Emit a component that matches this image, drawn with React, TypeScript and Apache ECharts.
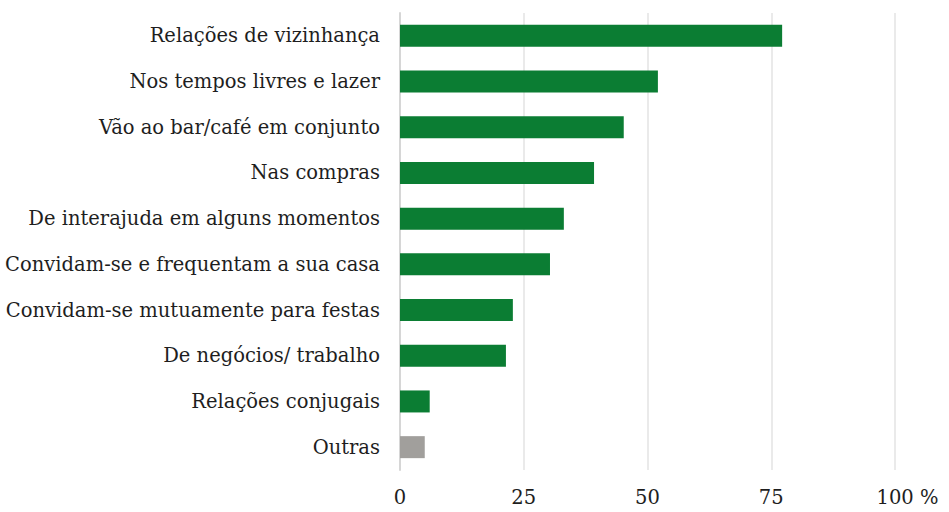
import React, { useEffect, useRef } from "react";
import * as echarts from "echarts";

const categories = [
  "Relações de vizinhança",
  "Nos tempos livres e lazer",
  "Vão ao bar/café em conjunto",
  "Nas compras",
  "De interajuda em alguns momentos",
  "Convidam-se e frequentam a sua casa",
  "Convidam-se mutuamente para festas",
  "De negócios/ trabalho",
  "Relações conjugais",
  "Outras",
];
const values = [77.2, 52.1, 45.2, 39.2, 33.1, 30.3, 22.8, 21.4, 6.0, 5.0];
const barColors = [
  "#0b7d33", "#0b7d33", "#0b7d33", "#0b7d33", "#0b7d33",
  "#0b7d33", "#0b7d33", "#0b7d33", "#0b7d33", "#a19f9c",
];
const xTicks = [0, 25, 50, 75, 100];

const FONT = "DejaVu Serif";
const FS = 19.5;

export default function App() {
  const ref = useRef<HTMLDivElement>(null);
  useEffect(() => {
    if (!ref.current) return;
    const chart = echarts.init(ref.current, undefined, { renderer: "svg" });
    chart.setOption({
      animation: false,
      backgroundColor: "#ffffff",
      textStyle: { fontFamily: FONT },
      grid: { left: 400, right: 54, top: 13, bottom: 42, containLabel: false },
      xAxis: {
        type: "value",
        min: xTicks[0],
        max: xTicks[xTicks.length - 1],
        interval: 25,
        axisLine: { show: false },
        axisTick: { show: false },
        splitLine: { show: true, lineStyle: { color: "#e3e3e3", width: 1.5 } },
        axisLabel: {
          margin: 17,
          color: "#1e1e1e",
          fontFamily: FONT,
          fontSize: FS,
          formatter: (v: number) => (v === 100 ? "{pad|}100 %" : String(v)),
          rich: { pad: { width: 25, fontFamily: FONT, fontSize: FS } },
        },
      },
      yAxis: {
        type: "category",
        inverse: true,
        data: categories,
        axisLine: { show: true, lineStyle: { color: "#d6d6d6", width: 2 } },
        axisTick: { show: false },
        axisLabel: {
          margin: 20,
          color: "#1e1e1e",
          fontFamily: FONT,
          fontSize: FS,
        },
      },
      series: [
        {
          type: "bar",
          barWidth: 22,
          data: values.map((v, i) => ({ value: v, itemStyle: { color: barColors[i] } })),
        },
      ],
    });
    return () => chart.dispose();
  }, []);
  return (
    <div
      ref={ref}
      style={{ position: "fixed", left: 0, top: 0, width: 949, height: 512 }}
    />
  );
}
